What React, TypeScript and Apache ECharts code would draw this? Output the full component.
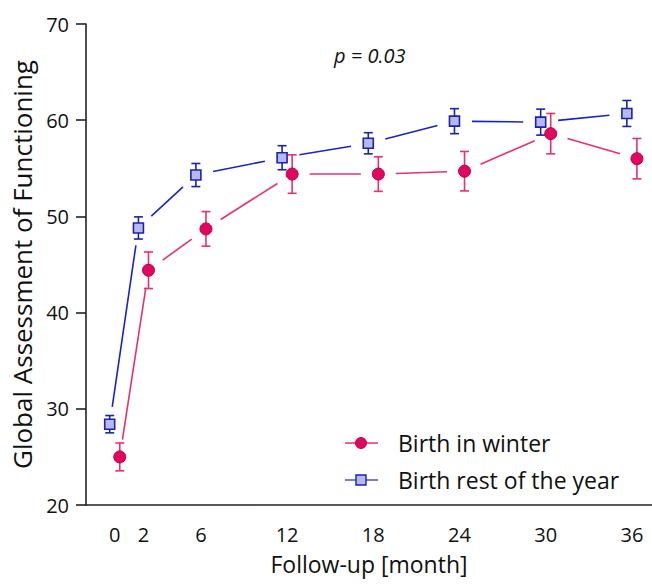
import React, { useEffect, useRef } from "react";
import * as echarts from "echarts";

const months = [0, 2, 6, 12, 18, 24, 30, 36];
const xTickLabels = [0, 2, 6, 12, 18, 24, 30, 36];
const winterMean = [25.0, 44.4, 48.7, 54.4, 54.4, 54.7, 58.6, 56.0];
const winterErr = [1.45, 1.9, 1.8, 2.0, 1.8, 2.05, 2.1, 2.1];
const restMean = [28.4, 48.8, 54.3, 56.1, 57.6, 59.9, 59.8, 60.7];
const restErr = [0.9, 1.15, 1.2, 1.25, 1.1, 1.3, 1.35, 1.35];
const seriesNames = ["Birth in winter", "Birth rest of the year"];
const pValueText = "p = 0.03";

const FONT = "Open Sans";
const RED_LINE = "#e8306b";
const RED_FILL = "#e3065f";
const RED_BORDER = "#b5004b";
const BLUE_LINE = "#1d22c4";
const BLUE_FILL = "#b6b9f1";
const BLUE_BORDER = "#1b24a6";
const DODGE = 0.35;

function segments(means: number[], off: number) {
  const out: number[][] = [];
  for (let i = 1; i < months.length; i++) {
    out.push([months[i - 1] + off, means[i - 1], months[i] + off, means[i]]);
  }
  return out;
}

function errData(means: number[], errs: number[], off: number) {
  return months.map((m, i) => [m + off, means[i] - errs[i], means[i] + errs[i]]);
}

function segRender(color: string) {
  return (params: any, api: any) => {
    const p1 = api.coord([api.value(0), api.value(1)]);
    const p2 = api.coord([api.value(2), api.value(3)]);
    const dx = p2[0] - p1[0];
    const dy = p2[1] - p1[1];
    const len = Math.hypot(dx, dy);
    const g = 17.5;
    if (len <= 2 * g) return null;
    const ux = dx / len;
    const uy = dy / len;
    return {
      type: "line",
      shape: { x1: p1[0] + ux * g, y1: p1[1] + uy * g, x2: p2[0] - ux * g, y2: p2[1] - uy * g },
      style: { stroke: color, lineWidth: 1.6 },
    };
  };
}

function errRender(color: string) {
  return (params: any, api: any) => {
    const x = api.value(0);
    const lo = api.coord([x, api.value(1)]);
    const hi = api.coord([x, api.value(2)]);
    const w = 4.5;
    const style = { stroke: color, lineWidth: 1.6 };
    return {
      type: "group",
      children: [
        { type: "line", shape: { x1: lo[0], y1: lo[1], x2: hi[0], y2: hi[1] }, style },
        { type: "line", shape: { x1: hi[0] - w, y1: hi[1], x2: hi[0] + w, y2: hi[1] }, style },
        { type: "line", shape: { x1: lo[0] - w, y1: lo[1], x2: lo[0] + w, y2: lo[1] }, style },
      ],
    };
  };
}

export default function App() {
  const ref = useRef<HTMLDivElement>(null);
  useEffect(() => {
    if (!ref.current) return;
    const chart = echarts.init(ref.current, undefined, { renderer: "svg" });
    const option: any = {
      animation: false,
      backgroundColor: "#ffffff",
      textStyle: { fontFamily: FONT },
      grid: { left: 86, right: 0, top: 24, bottom: 81 },
      xAxis: {
        type: "value",
        min: -2,
        max: 37.4,
        interval: 2,
        splitLine: { show: false },
        axisLine: { onZero: false, lineStyle: { color: "#222", width: 1.6 } },
        axisTick: { show: false },
        axisLabel: {
          margin: 19,
          fontSize: 20,
          color: "#111",
          fontFamily: FONT,
          showMaxLabel: false,
          formatter: (v: number) => (xTickLabels.includes(v) ? String(v) : ""),
        },
        name: "Follow-up [month]",
        nameLocation: "middle",
        nameGap: 47,
        nameTextStyle: { fontSize: 23, color: "#111", fontFamily: FONT },
      },
      yAxis: {
        type: "value",
        min: 20,
        max: 70,
        interval: 10,
        splitLine: { show: false },
        axisLine: { show: true, onZero: false, lineStyle: { color: "#222", width: 1.6 } },
        axisTick: { show: true, length: 10, lineStyle: { color: "#222", width: 1.6 } },
        axisLabel: { margin: 17, fontSize: 20, color: "#111", fontFamily: FONT },
        name: "Global Assessment of Functioning",
        nameLocation: "middle",
        nameGap: 50,
        nameTextStyle: { fontSize: 26, color: "#111", fontFamily: FONT },
      },
      series: [
        { type: "custom", name: seriesNames[1] + " line", data: segments(restMean, -DODGE), encode: { x: [0, 2], y: [1, 3] }, renderItem: segRender(BLUE_LINE), z: 1 },
        { type: "custom", name: seriesNames[0] + " line", data: segments(winterMean, DODGE), encode: { x: [0, 2], y: [1, 3] }, renderItem: segRender(RED_LINE), z: 1 },
        { type: "custom", name: seriesNames[1] + " err", data: errData(restMean, restErr, -DODGE), encode: { x: 0, y: [1, 2] }, renderItem: errRender(BLUE_BORDER), z: 2 },
        { type: "custom", name: seriesNames[0] + " err", data: errData(winterMean, winterErr, DODGE), encode: { x: 0, y: [1, 2] }, renderItem: errRender(RED_LINE), z: 2 },
        {
          type: "scatter",
          name: seriesNames[1],
          data: months.map((m, i) => [m - DODGE, restMean[i]]),
          symbol: "rect",
          symbolSize: 10,
          itemStyle: { color: BLUE_FILL, borderColor: BLUE_BORDER, borderWidth: 1.6, opacity: 1 },
          z: 3,
        },
        {
          type: "scatter",
          name: seriesNames[0],
          data: months.map((m, i) => [m + DODGE, winterMean[i]]),
          symbol: "circle",
          symbolSize: 12,
          itemStyle: { color: RED_FILL, borderColor: RED_BORDER, borderWidth: 1, opacity: 1 },
          z: 3,
        },
      ],
      graphic: [
        {
          type: "text",
          left: 372 - 38,
          top: 45,
          style: { text: pValueText, fontSize: 20, fontStyle: "italic", fontFamily: FONT, fill: "#111" },
        },
        { type: "line", shape: { x1: 345, y1: 443, x2: 378, y2: 443 }, style: { stroke: RED_LINE, lineWidth: 1.6 } },
        { type: "circle", shape: { cx: 361, cy: 443, r: 5.5 }, style: { fill: RED_FILL, stroke: RED_BORDER, lineWidth: 1 } },
        { type: "text", x: 398, y: 443, style: { text: seriesNames[0], fontSize: 23, fontFamily: FONT, fill: "#111", verticalAlign: "middle" } },
        { type: "line", shape: { x1: 345, y1: 480, x2: 378, y2: 480 }, style: { stroke: "#4a52d4", lineWidth: 1.6 } },
        { type: "rect", shape: { x: 356, y: 475, width: 10, height: 10 }, style: { fill: BLUE_FILL, stroke: BLUE_BORDER, lineWidth: 1.4 } },
        { type: "text", x: 398, y: 480, style: { text: seriesNames[1], fontSize: 23, fontFamily: FONT, fill: "#111", verticalAlign: "middle" } },
      ],
    };
    chart.setOption(option);
    return () => chart.dispose();
  }, []);
  return (
    <div
      ref={ref}
      style={{ position: "fixed", left: 0, top: 0, width: 652, height: 586, background: "#fff" }}
    />
  );
}
